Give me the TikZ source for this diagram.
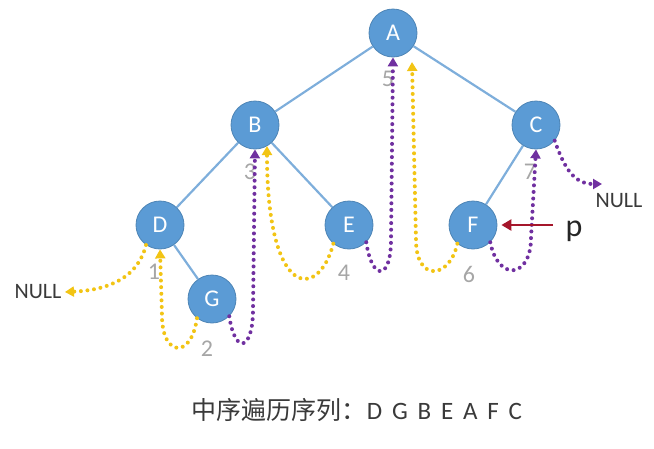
\documentclass[tikz,border=0pt]{standalone}
\usepackage{fontspec}
\setmainfont{Carlito}
\newfontfamily\cjk{Noto Sans CJK SC}
\usetikzlibrary{arrows.meta}
\definecolor{trblue}{HTML}{5B9BD5}
\definecolor{trline}{HTML}{7EAEDB}
\definecolor{tryellow}{HTML}{F2C414}
\definecolor{trpurple}{HTML}{7030A0}
\definecolor{trred}{HTML}{A5162B}
\definecolor{trgray}{HTML}{A6A6A6}
\definecolor{trtext}{HTML}{3A3A3A}
\tikzset{
  vert/.style   ={circle, fill=trblue, draw=trblue!85!black, line width=0.8pt,
                  minimum size=48pt, inner sep=0pt, text=white,
                  font=\fontsize{24}{26}\selectfont},
  edge/.style   ={draw=trline, line width=2.2pt},
  thread/.style ={line width=4pt, line cap=round, dash pattern=on 0pt off 6.6pt,
                  -{Triangle[length=9pt,width=10pt]}},
  lthread/.style={thread, tryellow},
  rthread/.style={thread, trpurple},
  idx/.style    ={text=trgray, font=\fontsize{24}{26}\selectfont},
  nulltxt/.style={text=trtext, font=\fontsize{22}{24}\selectfont},
  ptr/.style    ={-{Triangle[length=10pt,width=11pt]}, line width=2.6pt, trred},
}

\begin{document}
\begin{tikzpicture}[x=1pt,y=-1pt]
  \useasboundingbox (0,0) rectangle (654,448);
  % tree
  \node[vert] (A) at (393,33) {A};
  \node[vert] (B) at (255,125) {B};
  \node[vert] (C) at (536,125) {C};
  \node[vert] (D) at (160,225) {D};
  \node[vert] (E) at (349,225) {E};
  \node[vert] (F) at (473,225) {F};
  \node[vert] (G) at (212,299) {G};
  \draw[edge] (A) -- (B) (A) -- (C) (B) -- (D) (B) -- (E) (C) -- (F) (D) -- (G);
  % visiting order
  \node[idx] (i1) at (154,272) {1};
  \node[idx] (i2) at (207,349) {2};
  \node[idx] (i3) at (250,172) {3};
  \node[idx] (i4) at (344,273) {4};
  \node[idx] (i5) at (388,79) {5};
  \node[idx] (i6) at (469,274) {6};
  \node[idx] (i7) at (530,172) {7};
  \node[nulltxt] (nullL) at (38,292) {NULL};
  \node[nulltxt] (nullR) at (619,201) {NULL};
  \coordinate (nr) at (602,184);
  % left threads
  \draw[lthread] (D.-125) .. controls +(-8,32) and +(45,-2) .. (nullL.east);
  \draw[lthread] (G.-128) .. controls +(-6,42) and +(0,40) .. (162,316) -- (D.south);
  \draw[lthread] (E.-130) .. controls +(-15,57) and +(0,154) .. (267,146);
  \draw[lthread] (F.-130) .. controls +(-8,36) and +(0,42) .. (416,240) -- (412,62);
  % right threads
  \draw[rthread] (G.-45) .. controls +(6,40) and +(0,40) .. (253,310) -- (B.south);
  \draw[rthread] (E.-45) .. controls +(6,40) and +(0,40) .. (391,240) -- (A.south);
  \draw[rthread] (F.-45) .. controls +(8,40) and +(0,40) .. (531,238) -- (C.south);
  \draw[rthread] (C.-40) .. controls +(10,28) and +(-28,0) .. (nr);
  % pointer
  \node[font=\fontsize{32}{34}\selectfont, text=black!85] (p) at (574,231) {p};
  \draw[ptr, shorten <=9pt, shorten >=4pt] (p.west |- F.east) -- (F.east);
  \node[text=trtext, font=\fontsize{25}{28}\selectfont] (seq) at (357,410)
    {{\cjk 中序遍历序列：}D\, G\, B\, E\, A\, F\, C};
\end{tikzpicture}
\end{document}
